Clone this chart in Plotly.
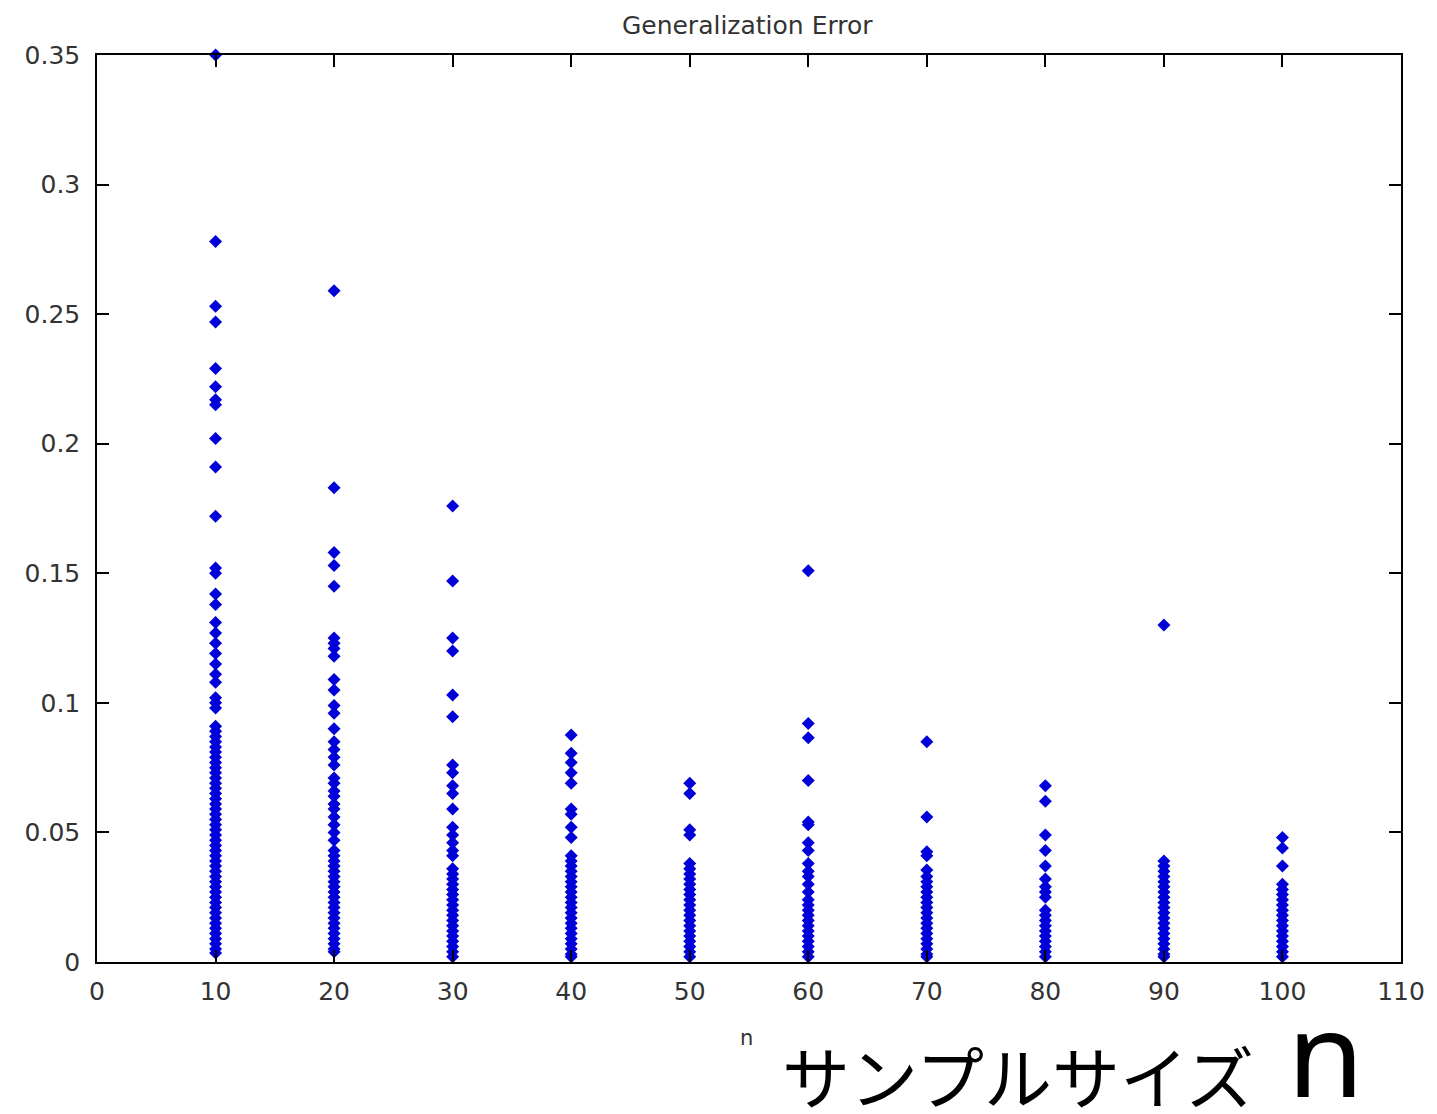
import plotly.graph_objects as go

sample_sizes = [10, 20, 30, 40, 50, 60, 70, 80, 90, 100]

err_n10 = [0.350, 0.278, 0.253, 0.247, 0.229, 0.222, 0.217, 0.215, 0.202, 0.191,
           0.172, 0.152, 0.150, 0.142, 0.138, 0.131, 0.127, 0.123, 0.119, 0.115,
           0.111, 0.108, 0.102, 0.100, 0.098, 0.091, 0.089, 0.087, 0.085, 0.083,
           0.081, 0.079, 0.077, 0.075, 0.073, 0.071, 0.069, 0.067, 0.065, 0.063,
           0.061, 0.059, 0.057, 0.055, 0.053, 0.051, 0.049, 0.047, 0.045, 0.043,
           0.041, 0.039, 0.037, 0.035, 0.033, 0.031, 0.029, 0.027, 0.025, 0.023,
           0.021, 0.019, 0.017, 0.015, 0.013, 0.011, 0.009, 0.007, 0.005, 0.0035]
err_n20 = [0.259, 0.183, 0.158, 0.153, 0.145, 0.125, 0.123, 0.121, 0.118, 0.109,
           0.105, 0.099, 0.096, 0.090, 0.085, 0.082, 0.079, 0.076, 0.071, 0.069,
           0.066, 0.064, 0.061, 0.059, 0.056, 0.053, 0.050, 0.047, 0.043, 0.041,
           0.039, 0.037, 0.035, 0.033, 0.031, 0.029, 0.027, 0.025, 0.023, 0.021,
           0.019, 0.017, 0.015, 0.013, 0.011, 0.009, 0.007, 0.005, 0.004]
err_n30 = [0.176, 0.147, 0.125, 0.120, 0.103, 0.0946, 0.076, 0.073, 0.068, 0.065,
           0.059, 0.052, 0.049, 0.046, 0.043, 0.041, 0.036, 0.034, 0.032, 0.030,
           0.028, 0.026, 0.024, 0.022, 0.020, 0.018, 0.016, 0.014, 0.012, 0.010,
           0.008, 0.006, 0.004, 0.002]
err_n40 = [0.0876, 0.0806, 0.077, 0.073, 0.069, 0.059, 0.057, 0.052, 0.048, 0.041,
           0.039, 0.037, 0.035, 0.033, 0.031, 0.029, 0.027, 0.025, 0.023, 0.021,
           0.019, 0.017, 0.015, 0.013, 0.011, 0.009, 0.007, 0.005, 0.003, 0.002]
err_n50 = [0.069, 0.065, 0.051, 0.049, 0.038, 0.036, 0.034, 0.032, 0.030, 0.028,
           0.026, 0.024, 0.022, 0.020, 0.018, 0.016, 0.014, 0.012, 0.010, 0.008,
           0.006, 0.004, 0.002]
err_n60 = [0.151, 0.092, 0.0865, 0.070, 0.054, 0.053, 0.046, 0.043, 0.038, 0.035,
           0.033, 0.030, 0.027, 0.024, 0.022, 0.020, 0.018, 0.016, 0.014, 0.012,
           0.010, 0.008, 0.006, 0.004, 0.002]
err_n70 = [0.085, 0.056, 0.0425, 0.041, 0.0355, 0.033, 0.031, 0.029, 0.027, 0.025,
           0.023, 0.021, 0.019, 0.017, 0.015, 0.013, 0.011, 0.009, 0.007, 0.005,
           0.003, 0.002]
err_n80 = [0.068, 0.062, 0.049, 0.043, 0.037, 0.032, 0.029, 0.027, 0.025, 0.020,
           0.018, 0.016, 0.014, 0.012, 0.010, 0.008, 0.006, 0.004, 0.002]
err_n90 = [0.130, 0.039, 0.037, 0.035, 0.033, 0.031, 0.029, 0.027, 0.025, 0.023,
           0.021, 0.019, 0.017, 0.015, 0.013, 0.011, 0.009, 0.007, 0.005, 0.003,
           0.002]
err_n100 = [0.048, 0.044, 0.037, 0.030, 0.028, 0.026, 0.024, 0.022, 0.020, 0.018,
            0.016, 0.014, 0.012, 0.010, 0.008, 0.006, 0.004, 0.002]

all_errors = [err_n10, err_n20, err_n30, err_n40, err_n50,
              err_n60, err_n70, err_n80, err_n90, err_n100]

x_ticks = [0, 10, 20, 30, 40, 50, 60, 70, 80, 90, 100, 110]
y_ticks = [0, 0.05, 0.1, 0.15, 0.2, 0.25, 0.3, 0.35]
y_labels = ["0", "0.05", "0.1", "0.15", "0.2", "0.25", "0.3", "0.35"]

xs, ys = [], []
for n, errs in zip(sample_sizes, all_errors):
    xs.extend([n] * len(errs))
    ys.extend(errs)

fig = go.Figure()
fig.add_trace(go.Scatter(
    x=xs, y=ys, mode="markers",
    marker=dict(symbol="diamond", size=10, color="#0000d8",
                line=dict(width=0)),
    showlegend=False, cliponaxis=False,
))

tick_font = dict(family="DejaVu Sans", size=25, color="#333333")
axis_common = dict(
    showline=True, linecolor="black", linewidth=1.5, mirror="ticks",
    ticks="inside", ticklen=12, tickwidth=1.5, tickcolor="black",
    showgrid=False, zeroline=False, tickfont=tick_font,
)

fig.update_layout(
    width=1437, height=1114,
    margin=dict(l=97, r=32, t=55, b=152),
    paper_bgcolor="white", plot_bgcolor="white",
    title=dict(text="Generalization Error", x=0.52, xanchor="center",
               y=0.977, yanchor="middle",
               font=dict(family="DejaVu Sans", size=25, color="#333333")),
    xaxis=dict(range=[0, 110], tickvals=x_ticks, ticklabelstandoff=6,
               ticktext=[str(v) for v in x_ticks], **axis_common),
    yaxis=dict(range=[0, 0.35], tickvals=y_ticks, ticktext=y_labels,
               ticklabelstandoff=10, **axis_common),
    font=dict(family="DejaVu Sans"),
)

fig.add_annotation(xref="paper", yref="paper", x=0.498, y=-0.0838,
                   text="n", showarrow=False, xanchor="center", yanchor="middle",
                   font=dict(family="DejaVu Sans", size=21, color="#333333"))
fig.add_annotation(xref="paper", yref="paper", x=0.524, y=-0.124,
                   text="サンプルサイズ", showarrow=False, xanchor="left",
                   yanchor="middle", height=72,
                   font=dict(family="Noto Sans CJK JP", size=68, color="black"))
fig.add_annotation(xref="paper", yref="paper", x=0.911, y=-0.099,
                   text="n", showarrow=False, xanchor="left", yanchor="middle",
                   height=90,
                   font=dict(family="Noto Sans", size=125, color="black"))

fig.write_html("out.html")
